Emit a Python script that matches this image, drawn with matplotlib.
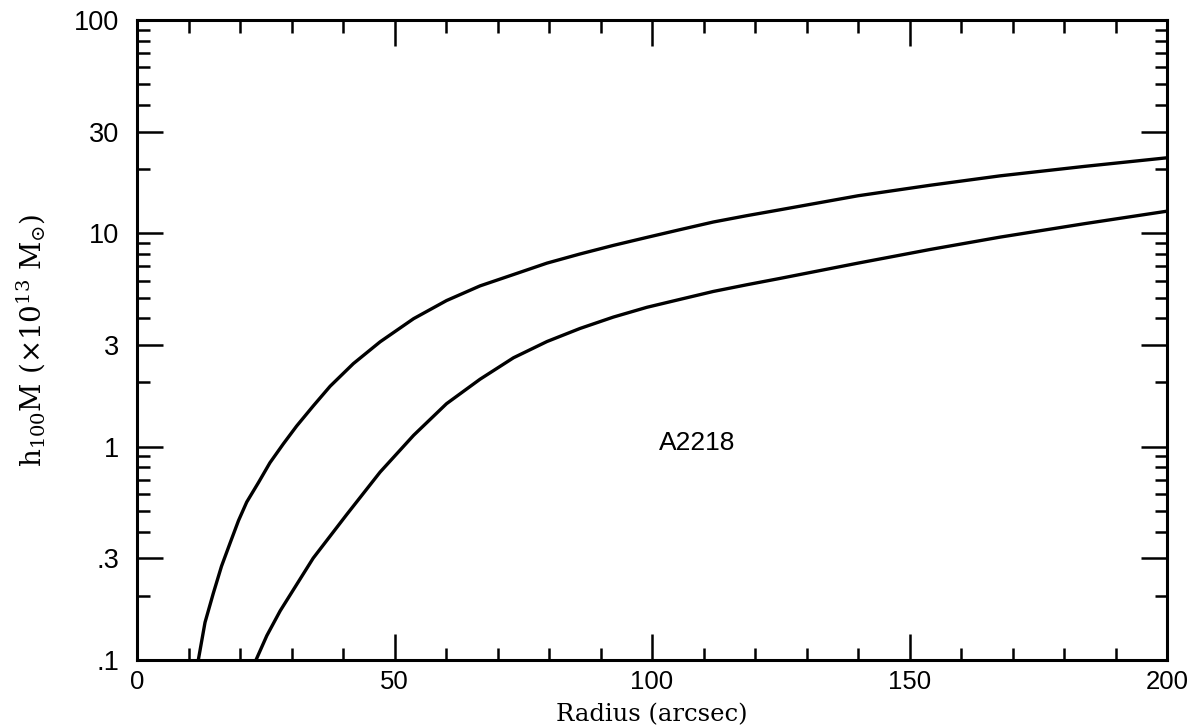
import matplotlib
matplotlib.use("Agg")
import matplotlib.pyplot as plt
from matplotlib.ticker import FixedLocator, NullFormatter

# mass profiles (radius in arcsec, mass in 1e13 Msun / h100)
radius_upper = [11.9, 13.2, 14.8, 16.4, 18.1, 19.7, 21.3, 23.6, 25.8, 28.4, 31.0, 34.2, 37.5, 42.0,
                47.2, 53.7, 60.1, 66.6, 73.1, 79.6, 86.0, 92.5, 99.0, 105.4, 111.9, 118.4, 124.9,
                140.0, 154.0, 167.6, 184.0, 200.0]
mass_upper = [0.1, 0.15, 0.205, 0.275, 0.355, 0.45, 0.55, 0.68, 0.84, 1.03, 1.25, 1.55, 1.92, 2.45,
              3.1, 3.98, 4.84, 5.67, 6.41, 7.25, 8.0, 8.78, 9.57, 10.4, 11.3, 12.1, 12.9,
              15.0, 16.8, 18.6, 20.6, 22.6]

radius_lower = [23.1, 25.2, 27.8, 34.2, 40.7, 47.2, 53.7, 60.1, 66.6, 73.1, 79.6, 86.0, 92.5, 99.0,
                105.4, 111.9, 118.4, 124.9, 140.0, 154.0, 167.6, 184.0, 200.0]
mass_lower = [0.1, 0.13, 0.17, 0.30, 0.48, 0.76, 1.13, 1.59, 2.07, 2.61, 3.11, 3.58, 4.05, 4.50,
              4.90, 5.34, 5.74, 6.15, 7.25, 8.4, 9.6, 11.1, 12.7]

y_major = [0.1, 0.3, 1, 3, 10, 30, 100]
y_major_labels = [".1", ".3", "1", "3", "10", "30", "100"]
y_minor = [0.2, 0.4, 0.5, 0.6, 0.7, 0.8, 0.9, 2, 4, 5, 6, 7, 8, 9, 20, 40, 50, 60, 70, 80, 90]
x_major = [0, 50, 100, 150, 200]
x_minor = [v for v in range(10, 200, 10) if v % 50 != 0]

plt.rcParams['mathtext.fontset'] = 'dejavuserif'

fig = plt.figure(figsize=(12, 7.25), dpi=100)
ax = fig.add_axes([0.1142, 0.0897, 0.8583, 0.8827])

ax.plot(radius_upper, mass_upper, color="black", lw=2.4, solid_joinstyle="round")
ax.plot(radius_lower, mass_lower, color="black", lw=2.4, solid_joinstyle="round")

ax.set_yscale("log")
ax.set_xlim(0, 200)
ax.set_ylim(0.1, 100)

ax.set_yticks(y_major)
ax.set_yticklabels(y_major_labels)
ax.yaxis.set_minor_locator(FixedLocator(y_minor))
ax.yaxis.set_minor_formatter(NullFormatter())
ax.set_xticks(x_major)
ax.set_xticklabels([str(v) for v in x_major])
ax.xaxis.set_minor_locator(FixedLocator(x_minor))

for s in ax.spines.values():
    s.set_linewidth(2.2)

ax.tick_params(which="both", direction="in", top=True, right=True, width=1.8)
ax.tick_params(which="major", length=19)
ax.tick_params(which="minor", length=9)
ax.tick_params(axis="x", which="major", pad=7.5, labelsize=18.5)
ax.tick_params(axis="y", which="major", pad=13, labelsize=19.5)
for lab in ax.get_xticklabels() + ax.get_yticklabels():
    lab.set_family("Liberation Sans")

ax.text(108.7, 1.04, "A2218", ha="center", va="center", fontsize=19, family="Liberation Sans")

ax.set_xlabel("Radius (arcsec)", fontsize=17.5, family="DejaVu Serif")
ax.xaxis.label.set_va("baseline")
ax.xaxis.set_label_coords(0.5, -0.095)
ax.set_ylabel(r"h$_{\mathrm{100}}$M (×10$^{\mathrm{13}}$ M$_{\odot}$)", fontsize=20, family="DejaVu Serif")
ax.yaxis.set_label_coords(-0.086, 0.5)

fig.savefig("out.png", dpi=100)
